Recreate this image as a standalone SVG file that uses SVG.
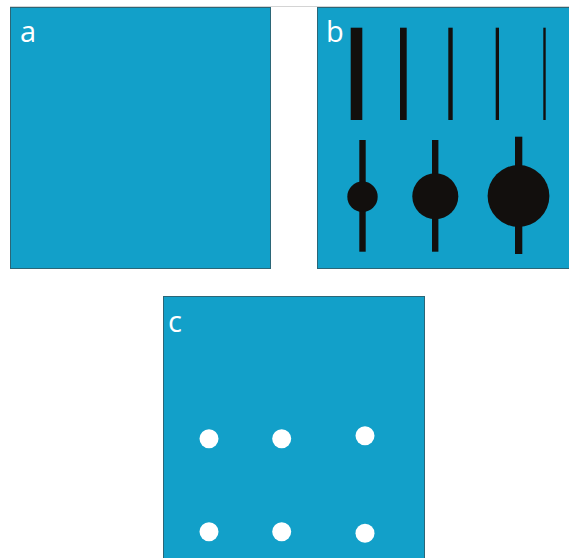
<svg xmlns="http://www.w3.org/2000/svg" width="569" height="558" viewBox="0 0 569 558">
  <style>
    .panel { fill: #12a0c9; stroke: #2b6677; stroke-width: 1; }
    .label { font-family: "Open Sans", "Liberation Sans", sans-serif; font-size: 29px; fill: #ffffff; }
    .ink { fill: #120f0d; }
    .dot { fill: #ffffff; }
  </style>
  <rect width="569" height="558" fill="#ffffff"/>
  <line x1="10" y1="6.5" x2="569" y2="6.5" stroke="#d4d4d4" stroke-width="1"/>

  <!-- panel a: empty field -->
  <g id="panel-a">
    <rect class="panel" x="10.5" y="7.5" width="260" height="261"/>
    <text class="label" x="20" y="41.5">a</text>
  </g>

  <!-- panel b: bars of decreasing width and knobbed sticks -->
  <g id="panel-b">
    <rect class="panel" x="317.5" y="7.5" width="260" height="261"/>
    <text class="label" x="326" y="41.5">b</text>
    <rect class="ink" x="350.7" y="27.7" width="11.6" height="92.3"/>
    <rect class="ink" x="400" y="27.7" width="6.7" height="92.3"/>
    <rect class="ink" x="448.3" y="27.7" width="4.4" height="92.3"/>
    <rect class="ink" x="495.7" y="27.7" width="3.3" height="92.3"/>
    <rect class="ink" x="543.3" y="27.7" width="2.4" height="92.3"/>
    <rect class="ink" x="359.3" y="140" width="6.4" height="111.7"/>
    <circle class="ink" cx="362.5" cy="196.7" r="15.2"/>
    <rect class="ink" x="432" y="140" width="6.4" height="111.7"/>
    <circle class="ink" cx="435.3" cy="196.2" r="23"/>
    <rect class="ink" x="515" y="136.7" width="7.3" height="117.3"/>
    <circle class="ink" cx="518.5" cy="196" r="30.9"/>
  </g>

  <!-- panel c: six white dots -->
  <g id="panel-c">
    <rect class="panel" x="163.5" y="296.5" width="261" height="270"/>
    <text class="label" x="168" y="332">c</text>
    <circle class="dot" cx="209" cy="438.7" r="9.5"/>
    <circle class="dot" cx="281.7" cy="438.7" r="9.5"/>
    <circle class="dot" cx="365" cy="435.7" r="9.5"/>
    <circle class="dot" cx="209" cy="531.7" r="9.5"/>
    <circle class="dot" cx="281.7" cy="531.7" r="9.5"/>
    <circle class="dot" cx="365" cy="533.3" r="9.5"/>
  </g>
</svg>
